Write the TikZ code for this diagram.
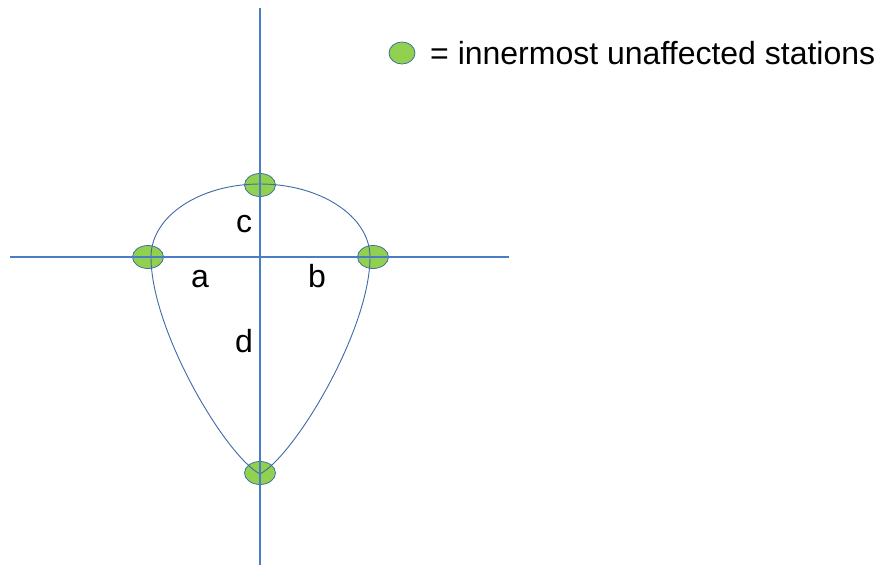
\documentclass[tikz,border=0pt]{standalone}
\usepackage{fontspec}
\setmainfont{Liberation Sans}
\usetikzlibrary{shapes.geometric}
\definecolor{axisblue}{HTML}{4A7EC4}
\definecolor{curveblue}{HTML}{3F6AA6}
\definecolor{stgreen}{HTML}{92D050}
\definecolor{stedge}{HTML}{41719C}
\begin{document}
\begin{tikzpicture}[x=1pt,y=-1pt,
  station/.style={ellipse,draw=stedge,fill=stgreen,line width=0.8pt,minimum width=31pt,minimum height=23pt,inner sep=0pt},
  axis/.style={draw=axisblue,line width=2pt},
  loop/.style={draw=curveblue,line width=0.9pt},
  lbl/.style={font=\fontsize{32}{38}\selectfont,inner sep=0pt,anchor=base}]
\useasboundingbox (0,0) rectangle (879,565);
% stations
\node[station] (top) at (260,185) {};
\node[station] (left) at (148,257) {};
\node[station] (right) at (373,257) {};
\node[station] (bot) at (260,473) {};
\coordinate (lp) at (151,257);
\coordinate (rp) at (370,257);
\coordinate (tp) at (260,184);
\coordinate (bp) at (260,474);
% loop curve
\draw[loop] (lp) .. controls (151,216) and (200,184) .. (tp)
  .. controls (320,184) and (370,216) .. (rp)
  .. controls (370,330) and (295,455) .. (bp)
  .. controls (225,455) and (151,330) .. (lp);
% axes
\coordinate (ht) at (260,8);
\coordinate (hb) at (260,565);
\coordinate (hl) at (10,257);
\coordinate (hr) at (509,257);
\draw[axis] (ht) -- (hb);
\draw[axis] (hl) -- (hr);
% labels
\node[lbl] (lc) at (244,232) {c};
\node[lbl] (la) at (200,287) {a};
\node[lbl] (lb) at (317,287) {b};
\node[lbl] (ld) at (244,352) {d};
% legend
\node[station,minimum width=26pt,minimum height=22pt] (key) at (402,53) {};
\node[font=\fontsize{32}{38}\selectfont,inner sep=0pt,anchor=base west] (keytext) at (430,64) {= innermost unaffected stations};
\end{tikzpicture}
\end{document}
